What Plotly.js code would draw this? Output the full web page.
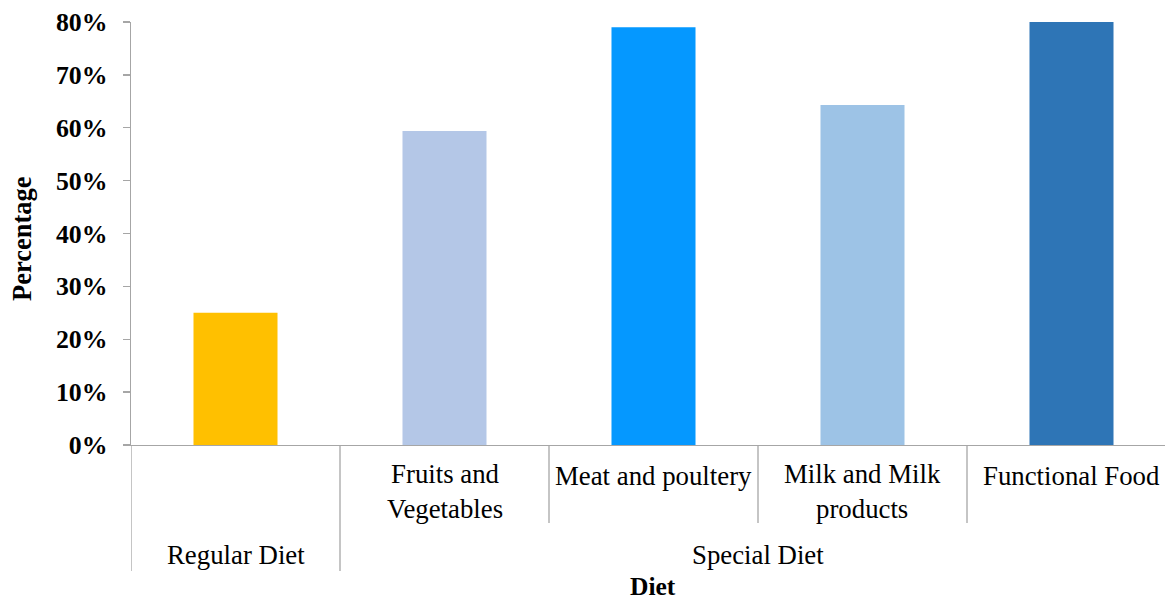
<!DOCTYPE html>
<html>
<head>
<meta charset="utf-8">
<script src="https://cdn.plot.ly/plotly-3.0.1.min.js"></script>
<style>
  html, body { margin: 0; padding: 0; background: #fff; }
  #chart { width: 1165px; height: 601px; }
</style>
</head>
<body>
<div id="chart"></div>
<script>
// Diet groups and sub-categories
const groups = ["Regular Diet", "Special Diet"];
const groupOf = ["Regular Diet", "Special Diet", "Special Diet", "Special Diet", "Special Diet"];
const subLabels = ["", "Fruits and<br>Vegetables", "Meat and poultery", "Milk and Milk<br>products", "Functional Food"];
const categories = ["Regular Diet", "Fruits and Vegetables", "Meat and poultery", "Milk and Milk products", "Functional Food"];
const percentages = [0.25, 0.594, 0.79, 0.643, 0.80];
const barColors = ["#FFC000", "#B4C7E7", "#0598FF", "#9DC3E6", "#2E75B6"];
const yTicks = [0, 0.1, 0.2, 0.3, 0.4, 0.5, 0.6, 0.7, 0.8];

const FONT = "Liberation Serif, Times New Roman, serif";
const AXIS_GREY = "#a6a6a6";
const LABEL_SIZE = 26.8;

// plot box in pixels
const W = 1165, H = 601;
const M = { l: 131, r: 0, t: 22, b: 156 };
const plotH = H - M.t - M.b;
// convert a pixel row on the page to paper y
const py = (row) => (H - M.b - row) / plotH;

const idx = categories.map((_, i) => i);

const annotations = [];

// inner labels; two-line labels sit a little higher
subLabels.forEach((t, i) => {
  if (!t) return;
  const twoLine = t.indexOf("<br>") >= 0;
  annotations.push({
    x: categories[i], xref: "x", y: py(twoLine ? 457 : 459), yref: "paper",
    yanchor: "top", xanchor: "center", showarrow: false,
    text: t, align: "center",
    font: { family: FONT, size: LABEL_SIZE, color: "#000" }
  });
});

// outer group labels, centred across their members
groups.forEach((g) => {
  const members = idx.filter((i) => groupOf[i] === g);
  const centre = members.reduce((a, b) => a + b, 0) / members.length;
  annotations.push({
    x: centre, xref: "x", y: py(555), yref: "paper",
    yanchor: "middle", xanchor: "center", showarrow: false,
    text: g, font: { family: FONT, size: LABEL_SIZE, color: "#000" }
  });
});

// axis titles
annotations.push({
  x: 0.505, xref: "paper", y: py(586), yref: "paper",
  yanchor: "middle", xanchor: "center", showarrow: false,
  text: "<b>Diet</b>", font: { family: FONT, size: 25.5, color: "#000" }
});
annotations.push({
  x: 0, xref: "paper", xshift: -109, y: py(239), yref: "paper",
  yanchor: "middle", xanchor: "center", showarrow: false, textangle: -90,
  text: "<b>Percentage</b>", font: { family: FONT, size: 26.5, color: "#000" }
});

// category divider lines below the axis
const shapes = [];
idx.forEach((i) => {
  const left = i - 0.5;
  const groupBoundary = i === 0 || groupOf[i] !== groupOf[i - 1];
  shapes.push({
    type: "line", xref: "x", yref: "paper",
    x0: left, x1: left, y0: 0, y1: py(groupBoundary ? 571 : 523),
    line: { color: AXIS_GREY, width: 1.3 }, layer: "above"
  });
});

const trace = {
  type: "bar",
  x: categories,
  y: percentages,
  marker: { color: barColors },
  hoverinfo: "x+y"
};

const layout = {
  width: W, height: H,
  margin: M,
  paper_bgcolor: "#fff", plot_bgcolor: "#fff",
  showlegend: false,
  bargap: 0.598,
  font: { family: FONT, color: "#000" },
  xaxis: {
    type: "category",
    categoryorder: "array", categoryarray: categories,
    range: [-0.5, -0.5 + (W - M.l - M.r) / 209],
    showticklabels: false, ticks: "",
    showline: true, linecolor: AXIS_GREY, linewidth: 1.3,
    showgrid: false, zeroline: false, fixedrange: true
  },
  yaxis: {
    range: [0, 0.8],
    tickvals: yTicks, tickformat: ".0%",
    ticks: "outside", ticklen: 7, tickcolor: AXIS_GREY, tickwidth: 1.3,
    ticklabelstandoff: 10,
    tickfont: { family: FONT, size: 25.8, color: "#000", weight: "bold" },
    showline: true, linecolor: AXIS_GREY, linewidth: 1.3,
    showgrid: false, zeroline: false, fixedrange: true
  },
  annotations: annotations,
  shapes: shapes
};

Plotly.newPlot("chart", [trace], layout, { displayModeBar: false, staticPlot: true });
</script>
</body>
</html>
